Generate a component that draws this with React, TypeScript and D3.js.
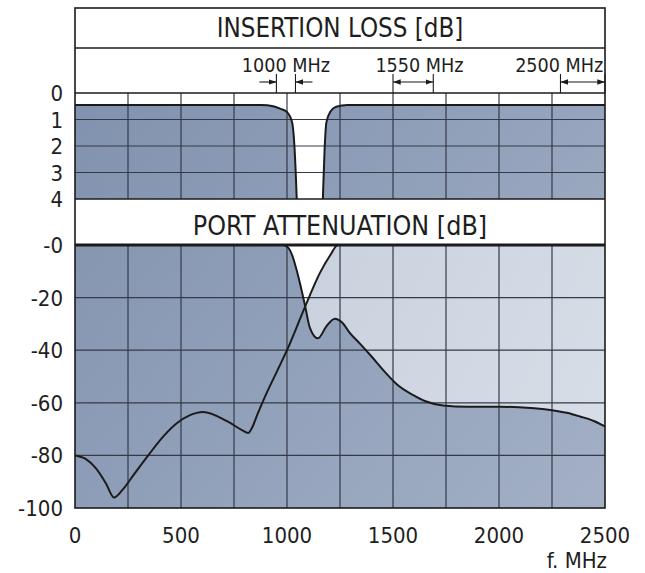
import React from 'react';
import * as d3 from 'd3';

// insertion loss of the common port, dB (values > 4 are clipped)
const ilFreq = [0, 880, 935, 970, 1000, 1024, 1035, 1045, 1060, 1155, 1170, 1177, 1186, 1205, 1232, 1285, 2500];
const ilLoss = [0.45, 0.45, 0.5, 0.6, 0.72, 1.1, 2.0, 3.8, 8, 8, 3.8, 2.2, 1.1, 0.7, 0.52, 0.45, 0.45];

// low band port attenuation, dB
const lowFreq = [0, 980, 1005, 1025, 1047, 1085, 1108, 1146, 1185, 1226, 1260, 1297, 1344, 1400, 1453, 1519, 1594, 1650, 1736, 1850, 2005, 2150, 2241, 2320, 2382, 2450, 2500];
const lowAtt = [0, 0, -1, -4, -10, -23, -31.5, -35.5, -31, -28, -29.5, -33.5, -37.5, -42.5, -47.5, -53, -57, -59.3, -61, -61.5, -61.5, -62, -62.7, -63.8, -65.2, -67, -69];

// high band port attenuation, dB
const highFreq = [0, 50, 100, 145, 184, 225, 280, 350, 420, 480, 540, 604, 717, 790, 816, 835, 860, 900, 950, 1000, 1085, 1156, 1203, 1240, 2500];
const highAtt = [-80, -81.3, -85, -90.5, -96, -93, -87, -79.5, -72.5, -67.8, -64.8, -63.5, -67, -70.5, -71.5, -69.5, -64.5, -57, -48.5, -40, -23.5, -10.5, -4, 0, 0];

const freqTicks = [0, 500, 1000, 1500, 2000, 2500];
const gridFreqs = [250, 500, 750, 1000, 1250, 1500, 1750, 2000, 2250];
const ilTicks = [0, 1, 2, 3, 4];
const portTicks = [0, -20, -40, -60, -80, -100];
const portTickLabels = ['-0', '-20', '-40', '-60', '-80', '-100'];

const bandLabels = ['1000 MHz', '1550 MHz', '2500 MHz'];
const bandEdges = [[950, 1040], [1500, 1690], [2290, 2500]];
const bandInward = [true, false, false];
const bandLabelFreq = [995, 1625, 2492];
const bandLabelAnchor = ['middle', 'middle', 'end'];

const FONT = '"DejaVu Sans Condensed", "DejaVu Sans", sans-serif';

const App: React.FC = () => {
  const width = 645;
  const height = 573;
  const left = 75;
  const right = 605;
  const top = 8;
  const headSep = 48;

  const x = d3.scaleLinear().domain([0, 2500]).range([left, right]);
  const yIL = d3.scaleLinear().domain([0, 4]).range([93, 199]);
  const yP = d3.scaleLinear().domain([0, -100]).range([245, 508]);

  const ilPts = ilFreq.map((f, i) => [f, ilLoss[i]] as [number, number]);
  const lowPts = lowFreq.map((f, i) => [f, lowAtt[i]] as [number, number]);
  const highPts = highFreq.map((f, i) => [f, highAtt[i]] as [number, number]);

  const ilArea = d3.area<[number, number]>()
    .x((d) => x(d[0])).y0(yIL(4)).y1((d) => yIL(d[1])).curve(d3.curveMonotoneX);
  const ilLine = d3.line<[number, number]>()
    .x((d) => x(d[0])).y((d) => yIL(d[1])).curve(d3.curveMonotoneX);
  const pArea = d3.area<[number, number]>()
    .x((d) => x(d[0])).y0(yP(-100)).y1((d) => yP(d[1])).curve(d3.curveMonotoneX);
  const pLine = d3.line<[number, number]>()
    .x((d) => x(d[0])).y((d) => yP(d[1])).curve(d3.curveMonotoneX);

  const gridColor = '#343a48';
  const ink = '#1b1b1b';
  const arrowY = 82;

  return (
    <svg width={width} height={height} style={{ position: 'absolute', left: 0, top: 0, background: '#fff' }}>
      <defs>
        <linearGradient id="dark" gradientUnits="userSpaceOnUse" x1={left} y1={93} x2={right} y2={508}>
          <stop offset="0" stopColor="#8192ae" />
          <stop offset="1" stopColor="#a3b0c6" />
        </linearGradient>
        <linearGradient id="light" gradientUnits="userSpaceOnUse" x1={left} y1={245} x2={right} y2={508}>
          <stop offset="0" stopColor="#c1cad9" />
          <stop offset="1" stopColor="#d9dfe8" />
        </linearGradient>
        <clipPath id="clipIL">
          <rect x={left} y={yIL(0)} width={right - left} height={yIL(4) - yIL(0)} />
        </clipPath>
        <clipPath id="clipP">
          <rect x={left} y={yP(0)} width={right - left} height={yP(-100) - yP(0)} />
        </clipPath>
        <marker id="head" viewBox="0 0 10 10" refX="10" refY="5" markerWidth="7" markerHeight="7" orient="auto-start-reverse">
          <path d="M0,1.5 L10,5 L0,8.5 Z" fill={ink} />
        </marker>
      </defs>

      {/* fills */}
      <g clipPath="url(#clipIL)">
        <path d={ilArea(ilPts) ?? ''} fill="url(#dark)" />
      </g>
      <g clipPath="url(#clipP)">
        <path d={pArea(highPts) ?? ''} fill="url(#light)" />
        <path d={pArea(lowPts) ?? ''} fill="url(#dark)" />
      </g>

      {/* grid */}
      <g stroke={gridColor} strokeWidth={1.2}>
        {gridFreqs.map((f) => (
          <g key={f}>
            <line x1={x(f)} x2={x(f)} y1={yIL(0)} y2={yIL(4)} />
            <line x1={x(f)} x2={x(f)} y1={yP(0)} y2={yP(-100)} />
          </g>
        ))}
        {ilTicks.slice(1, -1).map((t) => (
          <line key={t} x1={left} x2={right} y1={yIL(t)} y2={yIL(t)} />
        ))}
        {portTicks.slice(1, -1).map((t) => (
          <line key={t} x1={left} x2={right} y1={yP(t)} y2={yP(t)} />
        ))}
      </g>

      {/* curves */}
      <g fill="none" stroke={ink} strokeWidth={2}>
        <g clipPath="url(#clipIL)">
          <path d={ilLine(ilPts) ?? ''} />
        </g>
        <g clipPath="url(#clipP)">
          <path d={pLine(highPts) ?? ''} />
          <path d={pLine(lowPts) ?? ''} />
        </g>
      </g>

      {/* frame */}
      <g stroke={ink} fill="none">
        <rect x={left} y={top} width={right - left} height={yP(-100) - top} strokeWidth={1.6} />
        <line x1={left} x2={right} y1={headSep} y2={headSep} strokeWidth={1.4} />
        <line x1={left} x2={right} y1={yIL(0)} y2={yIL(0)} strokeWidth={1.4} />
        <line x1={left} x2={right} y1={yIL(4)} y2={yIL(4)} strokeWidth={1.6} />
        <line x1={left} x2={right} y1={yP(0)} y2={yP(0)} strokeWidth={3} />
      </g>

      {/* band markers */}
      <g stroke={ink} strokeWidth={1.1}>
        {bandEdges.map((e, i) => (
          <g key={i}>
            {e.map((f) => (
              <line key={f} x1={x(f)} x2={x(f)} y1={74} y2={yIL(0)} />
            ))}
            {bandInward[i] ? (
              <>
                <line x1={x(e[0]) - 17} x2={x(e[0])} y1={arrowY} y2={arrowY} markerEnd="url(#head)" />
                <line x1={x(e[1]) + 17} x2={x(e[1])} y1={arrowY} y2={arrowY} markerEnd="url(#head)" />
              </>
            ) : (
              <line x1={x(e[0])} x2={x(e[1])} y1={arrowY} y2={arrowY} markerStart="url(#head)" markerEnd="url(#head)" />
            )}
          </g>
        ))}
      </g>

      {/* texts */}
      <g fontFamily={FONT} fill="#1e1e1e">
        <text x={(left + right) / 2} y={37} textAnchor="middle" fontSize={25.7}>INSERTION LOSS [dB]</text>
        <text x={(left + right) / 2} y={235} textAnchor="middle" fontSize={26.6}>PORT ATTENUATION [dB]</text>
        {bandLabels.map((l, i) => (
          <text key={l} x={x(bandLabelFreq[i])} y={72} fontSize={19.6} textAnchor={bandLabelAnchor[i]}>{l}</text>
        ))}
        {ilTicks.map((t) => (
          <text key={t} x={63} y={yIL(t) + 8} fontSize={22} textAnchor="end">{t}</text>
        ))}
        {portTicks.map((t, i) => (
          <text key={t} x={63} y={yP(t) + 8} fontSize={22} textAnchor="end">{portTickLabels[i]}</text>
        ))}
        {freqTicks.map((f) => (
          <text key={f} x={x(f)} y={543} fontSize={22} textAnchor="middle">{f}</text>
        ))}
        <text x={607} y={568} fontSize={22} textAnchor="end">f. MHz</text>
      </g>
    </svg>
  );
};

export default App;
